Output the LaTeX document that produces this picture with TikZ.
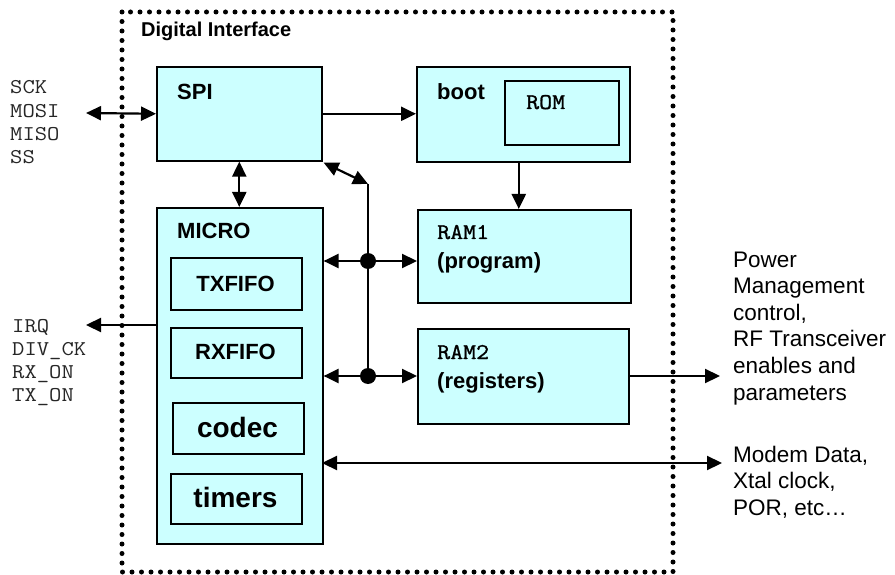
\documentclass[tikz,border=0pt]{standalone}
\usepackage{fontspec}
\setmainfont{Liberation Sans}
\newfontfamily\monofont{Latin Modern Mono}[FakeStretch=1.14]
\newfontfamily\monoboldfont{Latin Modern Mono}[FakeStretch=1.12, FakeBold=1.2]
\usetikzlibrary{arrows.meta}
\definecolor{cyanfill}{RGB}{204,255,255}
\begin{document}
\begin{tikzpicture}[x=1pt,y=-1pt,
  blk/.style={draw=black, fill=cyanfill, line width=1.6pt, inner sep=0pt, anchor=north west},
  bt/.style={font=\fontsize{22}{26}\selectfont\bfseries, inner sep=0pt},
  bigt/.style={font=\fontsize{28}{32}\selectfont\bfseries, inner sep=0pt, anchor=base},
  mt/.style={font=\fontsize{22.5}{26}\selectfont\monoboldfont, inner sep=0pt, anchor=base west},
  sidet/.style={font=\fontsize{21}{24}\selectfont\monofont, inner sep=0pt, anchor=base west, text=black!85},
  rt/.style={font=\fontsize{22.5}{27}\selectfont, inner sep=0pt, anchor=base west},
  tip/.style={-{Triangle[length=15pt,width=14pt]}},
  arr/.style={line width=2.2pt, tip},
  dbl/.style={line width=2.2pt, {Triangle[length=15pt,width=14pt]}-{Triangle[length=15pt,width=14pt]}},
  busdot/.style={circle, fill=black, inner sep=0pt, minimum size=16pt},
  frame/.style={line width=5pt, line cap=round, dash pattern=on 0pt off 9.5pt}
]
\useasboundingbox (0,0) rectangle (895,575);

% dotted frame
\draw[frame] (122,12) rectangle (673,572);
\node[bt, font=\fontsize{20}{24}\selectfont\bfseries, anchor=base west] (title) at (141,37) {Digital Interface};

% boxes
\node[blk, minimum width=165pt, minimum height=94pt] (spi) at (156,66) {};
\node[blk, minimum width=213pt, minimum height=95pt] (boot) at (416,66) {};
\node[blk, minimum width=114pt, minimum height=64pt] (rom) at (504,80) {};
\node[blk, minimum width=166pt, minimum height=336pt] (micro) at (156,207) {};
\node[blk, minimum width=131pt, minimum height=52pt] (tx) at (170,257) {};
\node[blk, minimum width=131pt, minimum height=50pt] (rx) at (170,327) {};
\node[blk, minimum width=131pt, minimum height=51pt] (codec) at (172,402) {};
\node[blk, minimum width=131pt, minimum height=50pt] (timers) at (170,473) {};
\node[blk, minimum width=213pt, minimum height=93pt] (ram1) at (417,209) {};
\node[blk, minimum width=211pt, minimum height=95pt] (ram2) at (417,328) {};

% box labels
\node[bt, anchor=base west] (spit) at (177,100) {SPI};
\node[bt, anchor=base west] (boott) at (437,100) {boot};
\node[mt] (romt) at (526,109) {ROM};
\node[bt, anchor=base west] (microt) at (177,239) {MICRO};
\node[bt, anchor=base] (txt) at (235.5,291) {TXFIFO};
\node[bt, anchor=base] (rxt) at (235.5,359) {RXFIFO};
\node[bigt] (codect) at (237.5,437) {codec};
\node[bigt] (timerst) at (235.5,507) {timers};
\node[mt] (ram1a) at (437,239) {RAM1};
\node[bt, anchor=base west] (ram1b) at (437,269) {(program)};
\node[mt] (ram2a) at (437,359) {RAM2};
\node[bt, anchor=base west] (ram2b) at (437,388) {(registers)};

% side texts
\foreach \t [count=\i] in {SCK,MOSI,MISO,SS}
  \node[sidet] (spiin\i) at (10,{94+23.3*(\i-1)}) {\t};
\foreach \t [count=\i] in {IRQ,DIV\_CK,RX\_ON,TX\_ON}
  \node[sidet] (irqout\i) at (12,{332+23.3*(\i-1)}) {\t};
\foreach \t [count=\i] in {Power,Management,{control,},RF Transceiver,enables and,parameters}
  \node[rt] (pwr\i) at (733,{267+26.6*(\i-1)}) {\t};
\foreach \t [count=\i] in {{Modem Data,},{Xtal clock,},{POR, etc\dots}}
  \node[rt] (modem\i) at (733,{462+26.5*(\i-1)}) {\t};

% connector coordinates
\coordinate (spiext) at (86,113);
\coordinate (irqext) at (86,325);
\coordinate (bustop) at (368,184);
\coordinate (ram2ext) at (720,376);
\coordinate (modemext) at (722,463);
\coordinate (modemin) at (322,463);
\coordinate (irqin) at (156,325);
\node[busdot] (dot1) at (368,261) {};
\node[busdot] (dot2) at (368,376) {};

% connectors
\draw[dbl] (spiext) -- (spi.west);
\draw[arr] (spi.east) -- (spi.east -| boot.west);
\draw[dbl] (spi.south) -- (spi.south |- micro.north);
\draw[arr] ([xshift=-4.5pt]boot.south) -- ([xshift=-4.5pt]boot.south |- ram1.north);
\draw[dbl] ([shift={(1pt,-1pt)}]spi.south east) -- (bustop);
\draw[line width=1.2pt] (bustop) -- (dot2.center);
\draw[dbl] (dot1 -| micro.east) -- (dot1 -| ram1.west);
\draw[dbl] (dot2 -| micro.east) -- (dot2 -| ram2.west);
\draw[arr] (irqin) -- (irqext);
\draw[arr] (ram2.east |- dot2) -- (ram2ext);
\draw[dbl] (modemin) -- (modemext);
\end{tikzpicture}
\end{document}
